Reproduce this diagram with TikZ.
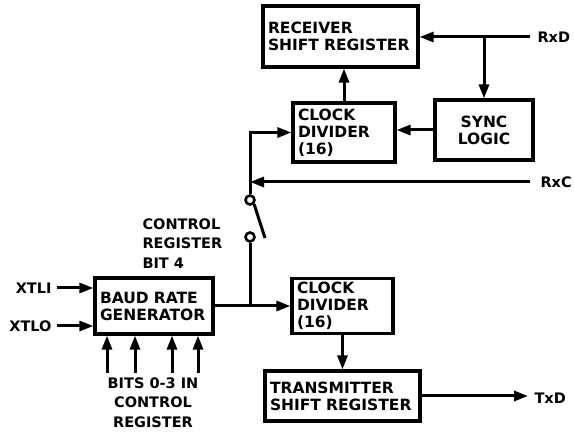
\documentclass[tikz,border=0pt]{standalone}
\usepackage{fontspec}
\setmainfont{DejaVu Sans}
\hyphenpenalty=10000
\usetikzlibrary{arrows.meta,positioning}

\begin{document}
\begin{tikzpicture}[x=1pt, y=-1pt,
  box/.style={rectangle, draw, line width=3.2pt, inner xsep=5pt, inner ysep=1pt, align=left, font=\fontsize{15.5}{17}\selectfont\bfseries},
  arrow/.style={-{Triangle[length=14pt,width=10pt]}, line width=3pt},
  wire/.style={line width=3pt},
  lbl/.style={font=\fontsize{14.5}{19.5}\selectfont\bfseries},
  contact/.style={circle, draw, line width=2.6pt, inner sep=0pt, minimum size=9pt}
]
\useasboundingbox (0,0) rectangle (574,435);

% Receive path
\node[box, text width=145pt, minimum height=61pt] (rsr) at (340.5,36.5) {RECEIVER\\SHIFT REGISTER};
\node[box, text width=92pt, minimum height=59pt] (cdrx) at (344,132.5) {CLOCK\\DIVIDER\\(16)};
\node[box, text width=88pt, minimum height=60pt, align=center] (sync) at (484,130) {SYNC\\LOGIC};

% Transmit path
\node[box, text width=108pt, minimum height=56pt] (brg) at (154,306) {BAUD RATE\\GENERATOR};
\node[box, text width=91pt, minimum height=55pt] (cdtx) at (342.5,306) {CLOCK\\DIVIDER\\(16)};
\node[box, text width=145pt, minimum height=50pt] (tsr) at (342.5,396) {TRANSMITTER\\SHIFT REGISTER};

% Switch contacts
\node[contact] (sw1) at (250,200) {};
\node[contact] (sw2) at (250,237) {};
\coordinate (blade) at (265,238);

% Pin labels
\coordinate (rxd) at (530,37);
\coordinate (rxc) at (530,182);
\coordinate (txd) at (528,396);
\coordinate (xtli) at (57,288);
\coordinate (xtlo) at (57,326);
\node[lbl, anchor=west] (rxdl) at (534,37) {RxD};
\node[lbl, anchor=west] (rxcl) at (537,182) {RxC};
\node[lbl, anchor=west] (txdl) at (531,398) {TxD};
\node[lbl, anchor=east] (xtlil) at (55,288) {XTLI};
\node[lbl, anchor=east] (xtlol) at (55,326) {XTLO};
\node[lbl, anchor=north west, align=left] (ctl) at (139,215) {CONTROL\\REGISTER\\BIT 4};
\node[lbl, anchor=north, align=center] (bits) at (153,374) {BITS 0-3 IN\\CONTROL\\REGISTER};

\draw[arrow] (rxd) -- (rsr.east |- rxd);
\draw[arrow] (sync.north |- rxd) -- (sync.north);
\draw[arrow] (sync.west) -- (cdrx.east |- sync.west);
\draw[arrow] (cdrx.north) -- (cdrx.north |- rsr.south);
\draw[arrow] (sw1.north) |- (cdrx.west);
\draw[arrow] (rxc) -- (rxc -| sw1);
\draw[wire] (sw1.south east) -- (blade);
\draw[wire] (sw2.south) -- (sw2 |- brg.east);
\draw[arrow] (brg.east) -- (cdtx.west);
\draw[arrow] (cdtx.south) -- (tsr.north);
\draw[arrow] (tsr.east |- txd) -- (txd);
\draw[arrow] (xtli) -- (xtli -| brg.west);
\draw[arrow] (xtlo) -- (xtlo -| brg.west);
\foreach \x [count=\i] in {107,135,172,198} {
  \coordinate (bit\i) at (\x,373);
  \draw[arrow] (bit\i) -- (bit\i |- brg.south);
}
\end{tikzpicture}
\end{document}
